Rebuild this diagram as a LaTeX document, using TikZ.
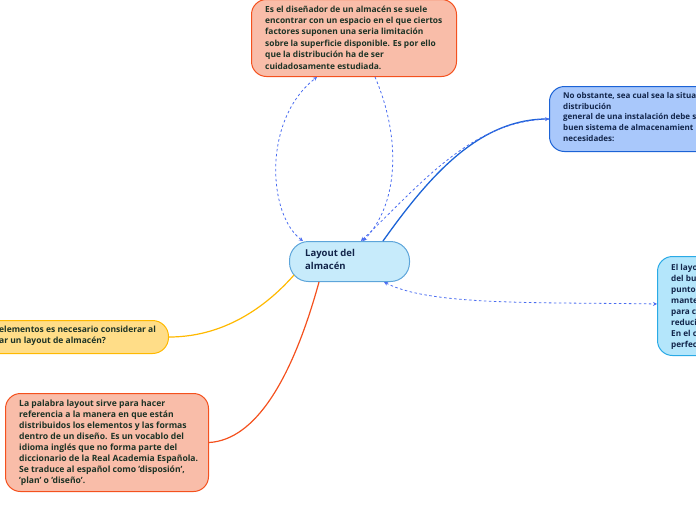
\documentclass[tikz,border=0pt]{standalone}
\usepackage{fontspec}
\setmainfont{Open Sans}
\usetikzlibrary{arrows.meta,calc}
\definecolor{salfill}{HTML}{F9BDA9}
\definecolor{salline}{HTML}{F4511E}
\definecolor{cenfill}{HTML}{C7EBFB}
\definecolor{cenline}{HTML}{5DA5DA}
\definecolor{r1fill}{HTML}{A9C8FB}
\definecolor{r1line}{HTML}{1C63D6}
\definecolor{r2fill}{HTML}{B4E6FB}
\definecolor{r2line}{HTML}{2AAAE6}
\definecolor{yelfill}{HTML}{FFDD88}
\definecolor{yelline}{HTML}{FFB900}
\definecolor{txtgreen}{HTML}{1D3326}
\definecolor{txtnavy}{HTML}{12254A}
\definecolor{dashblue}{HTML}{4A6CF0}
\tikzset{
  boxshape/.style={draw, line width=1pt, rounded corners=15pt, anchor=north west, inner sep=0pt},
  bodytext/.style={anchor=north west, inner sep=0pt, align=left, font=\fontsize{8.5}{11.2}\selectfont\bfseries},
  dashlink/.style={dashblue, line width=0.8pt, dash pattern=on 2.5pt off 2.5pt, {Stealth[length=4pt,width=4pt]}-{Stealth[length=4pt,width=4pt]}},
  dashone/.style={dashblue, line width=0.8pt, dash pattern=on 2.5pt off 2.5pt, -{Stealth[length=4pt,width=4pt]}}
}
\begin{document}
\begin{tikzpicture}[x=1pt,y=-1pt]
\useasboundingbox (0,0) rectangle (696,520);
\clip (0,0) rectangle (696,520);
% top node
\node[boxshape, fill=salfill, draw=salline, minimum width=205pt, minimum height=77pt] (topbox) at (251,-1) {};
\node[bodytext, text=txtgreen, font=\fontsize{8.4}{11.4}\selectfont\bfseries] (toptext) at (265,5.5) {Es el diseñador de un almacén se suele\\encontrar con un espacio en el que ciertos\\factores suponen una seria limitación\\sobre la superficie disponible. Es por ello\\que la distribución ha de ser\\cuidadosamente estudiada.};
% central
\node[boxshape, fill=cenfill, draw=cenline, rounded corners=19pt, minimum width=120pt, minimum height=40pt] (central) at (289,241) {};
\node[anchor=north west, inner sep=0pt, align=left, text=txtnavy, font=\fontsize{9.5}{13}\selectfont\bfseries] (centtext) at (305,249) {Layout del\\almacén};
% right 1
\node[boxshape, fill=r1fill, draw=r1line, minimum width=250pt, minimum height=65pt] (rone) at (549,86) {};
\node[bodytext, text=txtnavy, font=\fontsize{8}{10.8}\selectfont\bfseries] (ronetext) at (563,92) {No obstante, sea cual sea la situa\\distribución\\general de una instalación debe s\\buen sistema de almacenamient\\necesidades:};
% right 2
\node[boxshape, fill=r2fill, draw=r2line, minimum width=200pt, minimum height=99pt] (rtwo) at (657,256) {};
\node[bodytext, text=txtnavy, font=\fontsize{8.2}{11}\selectfont\bfseries] (rtwotext) at (671,264) {El layo\\del bu\\punto\\mante\\para c\\reduci\\En el c\\perfec};
% yellow
\node[boxshape, fill=yelfill, draw=yelline, rounded corners=16pt, minimum width=268pt, minimum height=33pt] (yel) at (-100,320) {};
\node[bodytext, text=txtgreen] (yeltext) at (-1,325.5) {elementos es necesario considerar al\\ar un layout de almacén?};
% bottom
\node[boxshape, fill=salfill, draw=salline, minimum width=203pt, minimum height=98pt] (bot) at (5,393) {};
\node[bodytext, text=txtgreen, font=\fontsize{8.6}{11}\selectfont\bfseries] (bottext) at (19,400) {La palabra layout sirve para hacer\\referencia a la manera en que están\\distribuidos los elementos y las formas\\dentro de un diseño. Es un vocablo del\\idioma inglés que no forma parte del\\diccionario de la Real Academia Española.\\Se traduce al español como 'disposión',\\'plan' o 'diseño'.};
% connectors
\draw[yelline, line width=1.2pt] (yel.east) .. controls (230,337) and (272,300) .. ($(central.south west)+(5,-7)$);
\draw[salline, line width=1.2pt] (bot.east) .. controls (255,440) and (292,380) .. ($(central.south west)+(30,0)$);
\draw[r1line, line width=1.3pt] ($(central.north west)+(94,0)$) .. controls (430,175) and (480,118) .. (rone.west);
\draw[dashlink] ($(central.north west)+(72,0)$) .. controls (420,185) and (470,122) .. (rone.west);
\draw[dashlink] ($(central.north west)+(14,0)$) .. controls (268,215) and (262,120) .. ($(topbox.south west)+(66,0)$);
\draw[dashone] ($(topbox.south west)+(124,0)$) .. controls (402,140) and (398,205) .. ($(central.north west)+(74,0)$);
\draw[dashlink] ($(central.south west)+(95,0)$) .. controls (430,306) and (540,302) .. ($(rtwo.west)+(0,-2)$);
\end{tikzpicture}
\end{document}
